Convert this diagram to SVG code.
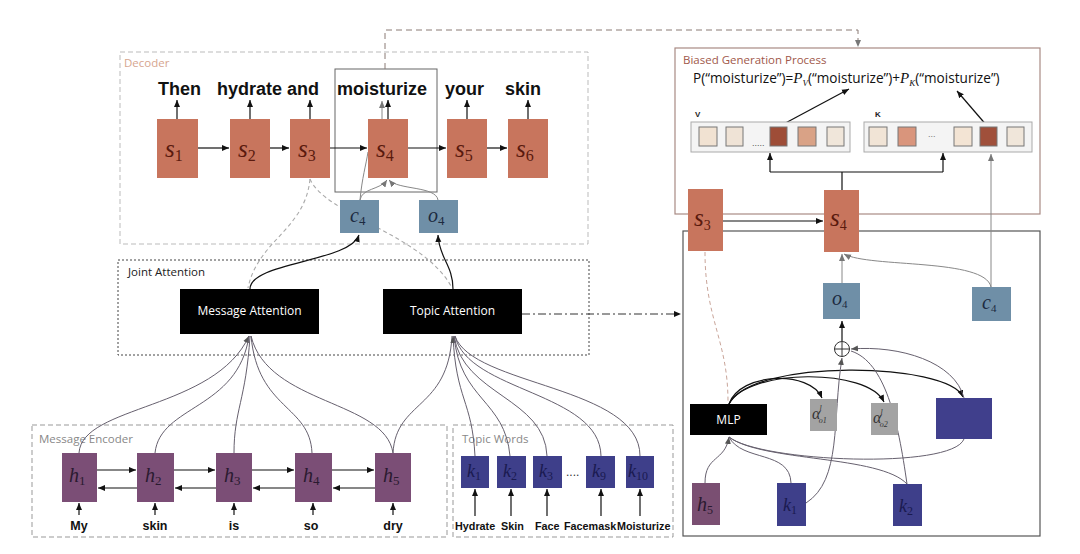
<svg xmlns="http://www.w3.org/2000/svg" width="1080" height="554" viewBox="0 0 1080 554">
<defs>
<marker id="ab" markerWidth="8" markerHeight="8" refX="7" refY="4" orient="auto" markerUnits="userSpaceOnUse"><path d="M0,1 L7,4 L0,7 z" fill="#111"/></marker>
<marker id="ag" markerWidth="8" markerHeight="8" refX="7" refY="4" orient="auto" markerUnits="userSpaceOnUse"><path d="M0,1 L7,4 L0,7 z" fill="#777"/></marker>
<marker id="ap" markerWidth="8" markerHeight="8" refX="7" refY="4" orient="auto" markerUnits="userSpaceOnUse"><path d="M0,1 L7,4 L0,7 z" fill="#555"/></marker>
</defs>
<style>
.s{fill:#c8755d}
.sl{font-family:"Liberation Serif",serif;font-style:italic;font-size:25px;fill:#5a1a0e}
.sub{font-size:16px;font-style:normal}
.n{font-style:normal}
.bl{fill:#6f8fa7}
.bll{font-family:"Liberation Serif",serif;font-style:italic;font-size:20px;fill:#1c2a40}
.h{fill:#7b4e76}
.k{fill:#3e3f8a}
.hl{font-family:"Liberation Serif",serif;font-style:italic;font-size:20px;fill:#2a1a30}
.kl{font-family:"Liberation Serif",serif;font-style:italic;font-size:18px;fill:#1a1a50}
.w{font-family:"Liberation Sans",Arial,sans-serif;font-weight:bold;font-size:18px;fill:#111}
.ww{font-family:"Liberation Sans",Arial,sans-serif;font-weight:bold;font-size:12.5px;fill:#111}
.tw{font-family:"Liberation Sans",Arial,sans-serif;font-weight:bold;font-size:10.8px;fill:#111}
.lab{font-family:"Open Sans","Liberation Sans",sans-serif;font-size:11.5px}
.bk{fill:#000}
.wt{font-family:"Open Sans","Liberation Sans",sans-serif;font-size:12px;fill:#fff}
.ln{stroke:#111;stroke-width:1.2;fill:none}
.gr{stroke:#888;stroke-width:1;fill:none}
.cv{stroke:#66606e;stroke-width:1;fill:none}
.dg{stroke:#aaa;stroke-width:1.1;fill:none;stroke-dasharray:4,3}
.sq{stroke:#777;stroke-width:1}
</style>

<!-- Frames -->
<g id="frames">
<rect x="120" y="52" width="468" height="192" fill="none" stroke="#bbb" stroke-dasharray="5,3"/>
<text x="124" y="67" class="lab" fill="#d6a58f" font-size="11">Decoder</text>
<rect x="118" y="260" width="471" height="95" fill="none" stroke="#444" stroke-dasharray="2,2"/>
<text x="128" y="276" class="lab" fill="#222">Joint Attention</text>
<rect x="32" y="425" width="415" height="112" fill="none" stroke="#999" stroke-dasharray="5,3"/>
<text x="39" y="443" class="lab" fill="#888" font-size="12">Message Encoder</text>
<rect x="453" y="425" width="220" height="112" fill="none" stroke="#999" stroke-dasharray="5,3"/>
<text x="462" y="443" class="lab" fill="#888" font-size="12">Topic Words</text>
<rect x="335" y="69" width="102" height="123" fill="none" stroke="#666" stroke-width="1"/>
<rect x="675" y="48" width="365" height="166" fill="none" stroke="#a88a84" stroke-width="1.2"/>
<text x="683" y="64" class="lab" fill="#a0584a" font-size="11">Biased Generation Process</text>
<rect x="683" y="231" width="357" height="305" fill="none" stroke="#555" stroke-width="1.2"/>
</g>

<!-- Connectors -->
<g id="connectors">
<path d="M385,69 V30 H858 V47" fill="none" stroke="#8a7a74" stroke-dasharray="6,4" marker-end="url(#ag)"/>
<line x1="198" y1="148" x2="229" y2="148" class="ln" marker-end="url(#ab)"/>
<line x1="270" y1="148" x2="289" y2="148" class="ln" marker-end="url(#ab)"/>
<line x1="330" y1="148" x2="367" y2="148" class="ln" marker-end="url(#ab)"/>
<line x1="408" y1="148" x2="446" y2="148" class="ln" marker-end="url(#ab)"/>
<line x1="487" y1="148" x2="507" y2="148" class="ln" marker-end="url(#ab)"/>
<line x1="177" y1="119" x2="177" y2="100" class="ln" marker-end="url(#ab)"/>
<line x1="250" y1="119" x2="250" y2="100" class="ln" marker-end="url(#ab)"/>
<line x1="310" y1="119" x2="310" y2="100" class="ln" marker-end="url(#ab)"/>
<line x1="388" y1="119" x2="388" y2="100" class="ln" marker-end="url(#ab)"/>
<line x1="467" y1="119" x2="467" y2="100" class="ln" marker-end="url(#ab)"/>
<line x1="528" y1="119" x2="528" y2="100" class="ln" marker-end="url(#ab)"/>
<line x1="382" y1="119" x2="382" y2="101" class="gr" marker-end="url(#ag)"/>
<path d="M360,200 C362,178 366,165 368,152" class="gr"/>
<path d="M360,200 C362,188 380,190 387,180" class="gr" marker-end="url(#ag)"/>
<path d="M438,200 C436,186 398,190 389,180" class="gr" marker-end="url(#ag)"/>
<path d="M310,179 C305,230 258,240 248,288" class="dg"/>
<path d="M310,179 C325,215 425,235 452,288" class="dg"/>
<path d="M250,289 C250,262 350,262 359,235" class="ln" marker-end="url(#ab)"/>
<path d="M453,289 C453,265 439,258 438,235" class="ln" marker-end="url(#ab)"/>
<path d="M79,453 C82,405 215,410 249,336" class="cv" marker-end="url(#ap)"/>
<path d="M155,453 C160,405 238,410 249,336" class="cv"/>
<path d="M234,453 C234,410 246,400 250,336" class="cv"/>
<path d="M312,453 C310,405 258,410 251,336" class="cv"/>
<path d="M393,453 C385,400 268,405 251,336" class="cv"/>
<path d="M393,453 C396,400 448,410 452,336" class="cv"/>
<path d="M475,456 C472,400 456,400 453,336" class="cv" marker-end="url(#ap)"/>
<path d="M510,456 C505,400 460,400 454,336" class="cv"/>
<path d="M547,456 C545,398 463,395 454,336" class="cv"/>
<path d="M601,456 C600,392 468,392 455,336" class="cv"/>
<path d="M640,456 C640,386 472,386 455,336" class="cv"/>
<line x1="97" y1="470" x2="136" y2="470" class="ln" marker-end="url(#ab)"/>
<line x1="174" y1="470" x2="215" y2="470" class="ln" marker-end="url(#ab)"/>
<line x1="252" y1="470" x2="294" y2="470" class="ln" marker-end="url(#ab)"/>
<line x1="332" y1="470" x2="374" y2="470" class="ln" marker-end="url(#ab)"/>
<line x1="137" y1="488" x2="98" y2="488" class="ln" marker-end="url(#ab)"/>
<line x1="216" y1="488" x2="175" y2="488" class="ln" marker-end="url(#ab)"/>
<line x1="295" y1="488" x2="253" y2="488" class="ln" marker-end="url(#ab)"/>
<line x1="375" y1="488" x2="333" y2="488" class="ln" marker-end="url(#ab)"/>
<line x1="79" y1="515" x2="79" y2="503" class="ln" marker-end="url(#ab)"/>
<line x1="155" y1="515" x2="155" y2="503" class="ln" marker-end="url(#ab)"/>
<line x1="234" y1="515" x2="234" y2="503" class="ln" marker-end="url(#ab)"/>
<line x1="313" y1="515" x2="313" y2="503" class="ln" marker-end="url(#ab)"/>
<line x1="393" y1="515" x2="393" y2="503" class="ln" marker-end="url(#ab)"/>
<line x1="475" y1="516" x2="475" y2="489" class="ln" marker-end="url(#ab)"/>
<line x1="511" y1="516" x2="511" y2="489" class="ln" marker-end="url(#ab)"/>
<line x1="547" y1="516" x2="547" y2="489" class="ln" marker-end="url(#ab)"/>
<line x1="601" y1="516" x2="601" y2="489" class="ln" marker-end="url(#ab)"/>
<line x1="640" y1="516" x2="640" y2="489" class="ln" marker-end="url(#ab)"/>
<line x1="522" y1="314" x2="681" y2="314" stroke="#333" stroke-width="1" stroke-dasharray="8,3,2,3" marker-end="url(#ab)"/>
<line x1="723" y1="221" x2="823" y2="221" class="ln" marker-end="url(#ab)"/>
<path d="M842,190 V172 M770,172 H943" class="ln"/>
<line x1="770" y1="172" x2="770" y2="153" class="ln" marker-end="url(#ab)"/>
<line x1="943" y1="172" x2="943" y2="153" class="ln" marker-end="url(#ab)"/>
<line x1="778" y1="127" x2="849" y2="89" class="ln" marker-end="url(#ab)"/>
<line x1="988" y1="127" x2="957" y2="91" class="ln" marker-end="url(#ab)"/>
<line x1="991" y1="287" x2="991" y2="154" class="gr" marker-end="url(#ag)"/>
<path d="M991,287 C985,258 870,268 844,254" class="gr" marker-end="url(#ag)"/>
<line x1="842" y1="283" x2="842" y2="254" class="gr" marker-end="url(#ag)"/>
<line x1="842" y1="341" x2="842" y2="321" class="ln" marker-end="url(#ab)"/>
<path d="M705,252 C705,320 728,340 728,402" stroke="#c9a59a" stroke-width="1" fill="none" stroke-dasharray="4,3"/>
<path d="M729,404 C740,372 810,370 822,398" class="ln" marker-end="url(#ab)"/>
<path d="M729,404 C748,368 868,368 884,402" class="ln" marker-end="url(#ab)"/>
<path d="M729,404 C752,358 948,362 963,397" class="ln" marker-end="url(#ab)"/>
<path d="M964,398 C955,362 900,345 851,349" class="cv" marker-end="url(#ap)"/>
<path d="M806,503 C842,480 832,420 842,358" class="cv" marker-end="url(#ap)"/>
<path d="M907,484 C898,420 885,362 851,351" class="cv"/>
<path d="M705,483 C705,455 725,462 729,437" class="cv" marker-end="url(#ap)"/>
<path d="M791,483 C790,450 742,462 729,437" class="cv"/>
<path d="M907,484 C880,455 762,462 729,437" class="cv"/>
<path d="M964,439 C952,470 760,462 729,437" class="cv"/>
</g>

<!-- Decoder nodes -->
<g id="s1"><rect x="157" y="119" width="41" height="59" class="s"/><text x="165" y="157" class="sl">s<tspan class="sub" dy="4">1</tspan></text></g>
<g id="s2"><rect x="230" y="119" width="40" height="59" class="s"/><text x="238" y="157" class="sl">s<tspan class="sub" dy="4">2</tspan></text></g>
<g id="s3"><rect x="290" y="119" width="40" height="59" class="s"/><text x="298" y="157" class="sl">s<tspan class="sub" dy="4">3</tspan></text></g>
<g id="s4"><rect x="368" y="119" width="40" height="59" class="s"/><text x="376" y="157" class="sl">s<tspan class="sub" dy="4">4</tspan></text></g>
<g id="s5"><rect x="447" y="119" width="40" height="59" class="s"/><text x="455" y="157" class="sl">s<tspan class="sub" dy="4">5</tspan></text></g>
<g id="s6"><rect x="508" y="119" width="40" height="59" class="s"/><text x="516" y="157" class="sl">s<tspan class="sub" dy="4">6</tspan></text></g>
<g id="words">
<text x="158" y="95" class="w">Then</text>
<text x="217" y="95" class="w">hydrate and</text>
<text x="337" y="95" class="w">moisturize</text>
<text x="445" y="95" class="w">your</text>
<text x="505" y="95" class="w">skin</text>
</g>
<g id="c4"><rect x="340" y="200" width="39" height="33" class="bl"/><text x="350" y="222" class="bll">c<tspan class="n" font-size="13" dy="3">4</tspan></text></g>
<g id="o4"><rect x="419" y="200" width="39" height="33" class="bl"/><text x="428" y="222" class="bll">o<tspan class="n" font-size="13" dy="3">4</tspan></text></g>

<!-- Attention -->
<g id="msgatt"><rect x="180" y="289" width="139" height="45" class="bk"/><text x="249.5" y="315" class="wt" text-anchor="middle">Message Attention</text></g>
<g id="topatt"><rect x="383" y="289" width="139" height="45" class="bk"/><text x="452.5" y="315" class="wt" text-anchor="middle">Topic Attention</text></g>

<!-- Encoder -->
<g id="h1"><rect x="62" y="453" width="35" height="49" class="h"/><text x="69" y="482" class="hl">h<tspan class="n" font-size="13" dy="3">1</tspan></text></g>
<g id="h2"><rect x="137" y="453" width="37" height="49" class="h"/><text x="145" y="482" class="hl">h<tspan class="n" font-size="13" dy="3">2</tspan></text></g>
<g id="h3"><rect x="216" y="453" width="36" height="49" class="h"/><text x="224" y="482" class="hl">h<tspan class="n" font-size="13" dy="3">3</tspan></text></g>
<g id="h4"><rect x="295" y="453" width="37" height="49" class="h"/><text x="303" y="482" class="hl">h<tspan class="n" font-size="13" dy="3">4</tspan></text></g>
<g id="h5"><rect x="375" y="453" width="36" height="49" class="h"/><text x="383" y="482" class="hl">h<tspan class="n" font-size="13" dy="3">5</tspan></text></g>
<g id="encwords">
<text x="79" y="530" class="ww" text-anchor="middle">My</text>
<text x="155" y="530" class="ww" text-anchor="middle">skin</text>
<text x="234" y="530" class="ww" text-anchor="middle">is</text>
<text x="311" y="530" class="ww" text-anchor="middle">so</text>
<text x="393" y="530" class="ww" text-anchor="middle">dry</text>
</g>
<g id="k1"><rect x="461" y="456" width="28" height="32" class="k"/><text x="467" y="477" class="kl">k<tspan class="n" font-size="12" dy="3">1</tspan></text></g>
<g id="k2"><rect x="497" y="456" width="29" height="32" class="k"/><text x="503" y="477" class="kl">k<tspan class="n" font-size="12" dy="3">2</tspan></text></g>
<g id="k3"><rect x="533" y="456" width="29" height="32" class="k"/><text x="539" y="477" class="kl">k<tspan class="n" font-size="12" dy="3">3</tspan></text></g>
<text x="566" y="476" font-family="Liberation Sans,sans-serif" font-size="12" fill="#333">....</text>
<g id="k9"><rect x="586" y="456" width="29" height="32" class="k"/><text x="592" y="477" class="kl">k<tspan class="n" font-size="12" dy="3">9</tspan></text></g>
<g id="k10"><rect x="626" y="456" width="28" height="32" class="k"/><text x="628" y="477" class="kl">k<tspan class="n" font-size="12" dy="3">10</tspan></text></g>
<g id="topicwords">
<text x="455" y="530" class="tw">Hydrate</text>
<text x="501" y="530" class="tw">Skin</text>
<text x="535" y="530" class="tw">Face</text>
<text x="564" y="530" class="tw">Facemask</text>
<text x="617" y="530" class="tw">Moisturize</text>
</g>

<!-- Biased generation -->
<g id="formula"><text x="693" y="83" font-family="Open Sans,Liberation Sans,sans-serif" font-size="13.6" fill="#111">P(“moisturize”)=<tspan font-family="Liberation Serif,serif" font-style="italic" font-size="15">P</tspan><tspan font-family="Liberation Serif,serif" font-style="italic" font-size="9" dy="3">V</tspan><tspan dy="-3">(“moisturize”)+</tspan><tspan font-family="Liberation Serif,serif" font-style="italic" font-size="15">P</tspan><tspan font-family="Liberation Serif,serif" font-style="italic" font-size="9" dy="3">K</tspan><tspan dy="-3">(“moisturize”)</tspan></text></g>
<g id="vbar">
<text x="695" y="117" font-family="Liberation Sans,sans-serif" font-weight="bold" font-size="8" fill="#222">V</text>
<rect x="691" y="122" width="159" height="30" fill="#f4f4f4" stroke="#aaa"/>
<rect x="699" y="127" width="18" height="19" fill="#f1e2d2" class="sq"/>
<rect x="726" y="127" width="17" height="19" fill="#efe3d6" class="sq"/>
<text x="752" y="146" font-family="Liberation Sans,sans-serif" font-size="9" fill="#555">.....</text>
<rect x="770" y="127" width="17" height="19" fill="#9e4d37" class="sq"/>
<rect x="798" y="127" width="18" height="19" fill="#d9a286" class="sq"/>
<rect x="827" y="127" width="17" height="19" fill="#f0e6da" class="sq"/>
</g>
<g id="kbar">
<text x="875" y="117" font-family="Liberation Sans,sans-serif" font-weight="bold" font-size="8" fill="#222">K</text>
<rect x="864" y="122" width="168" height="30" fill="#f4f4f4" stroke="#aaa"/>
<rect x="869" y="127" width="18" height="19" fill="#f1e4d6" class="sq"/>
<rect x="898" y="127" width="18" height="19" fill="#d9957c" class="sq"/>
<text x="928" y="137" font-family="Liberation Sans,sans-serif" font-size="9" fill="#777">...</text>
<rect x="954" y="127" width="18" height="19" fill="#f3e4d4" class="sq"/>
<rect x="980" y="127" width="17" height="19" fill="#a0503b" class="sq"/>
<rect x="1007" y="127" width="17" height="19" fill="#f0e6da" class="sq"/>
</g>

<!-- Right panel nodes -->
<g id="S3r"><rect x="688" y="189" width="35" height="62" class="s"/><text x="694" y="226" class="sl" font-size="21">s<tspan class="n" font-size="14" dy="4">3</tspan></text></g>
<g id="S4r"><rect x="824" y="190" width="35" height="62" class="s"/><text x="830" y="226" class="sl" font-size="21">s<tspan class="n" font-size="14" dy="4">4</tspan></text></g>
<g id="o4r"><rect x="823" y="283" width="37" height="36" class="bl"/><text x="832" y="305" class="bll" font-size="16">o<tspan class="n" font-size="11" dy="3">4</tspan></text></g>
<g id="c4r"><rect x="972" y="287" width="39" height="34" class="bl"/><text x="982" y="309" class="bll" font-size="16">c<tspan class="n" font-size="11" dy="3">4</tspan></text></g>
<g id="oplus"><circle cx="842" cy="349" r="7.5" fill="#fff" stroke="#333" stroke-width="1"/><path d="M834.5,349 H849.5 M842,341.5 V356.5" stroke="#333" stroke-width="1"/></g>
<g id="mlp"><rect x="690" y="404" width="77" height="31" class="bk"/><text x="728.5" y="424" class="wt" font-size="9" text-anchor="middle">MLP</text></g>
<g id="ao1"><rect x="810" y="399" width="27" height="32" fill="#a3a3a3"/><text x="812" y="419" font-family="Liberation Serif,serif" font-style="italic" font-size="16" fill="#333">α<tspan font-size="8" dx="-1" dy="-8">l</tspan><tspan font-size="8" dx="-3" dy="12">o1</tspan></text></g>
<g id="ao2"><rect x="871" y="403" width="27" height="32" fill="#a3a3a3"/><text x="873" y="423" font-family="Liberation Serif,serif" font-style="italic" font-size="16" fill="#333">α<tspan font-size="8" dx="-1" dy="-8">l</tspan><tspan font-size="8" dx="-3" dy="12">o2</tspan></text></g>
<g id="bluebox"><rect x="936" y="398" width="56" height="41" fill="#403f8c"/></g>
<g id="h5r"><rect x="692" y="483" width="28" height="42" fill="#7a4f72"/><text x="697" y="511" class="hl" font-size="18">h<tspan class="n" font-size="12" dy="3">5</tspan></text></g>
<g id="k1r"><rect x="777" y="483" width="29" height="43" class="k"/><text x="783" y="511" class="kl">k<tspan class="n" font-size="12" dy="3">1</tspan></text></g>
<g id="k2r"><rect x="893" y="484" width="29" height="42" class="k"/><text x="899" y="512" class="kl">k<tspan class="n" font-size="12" dy="3">2</tspan></text></g>
</svg>
